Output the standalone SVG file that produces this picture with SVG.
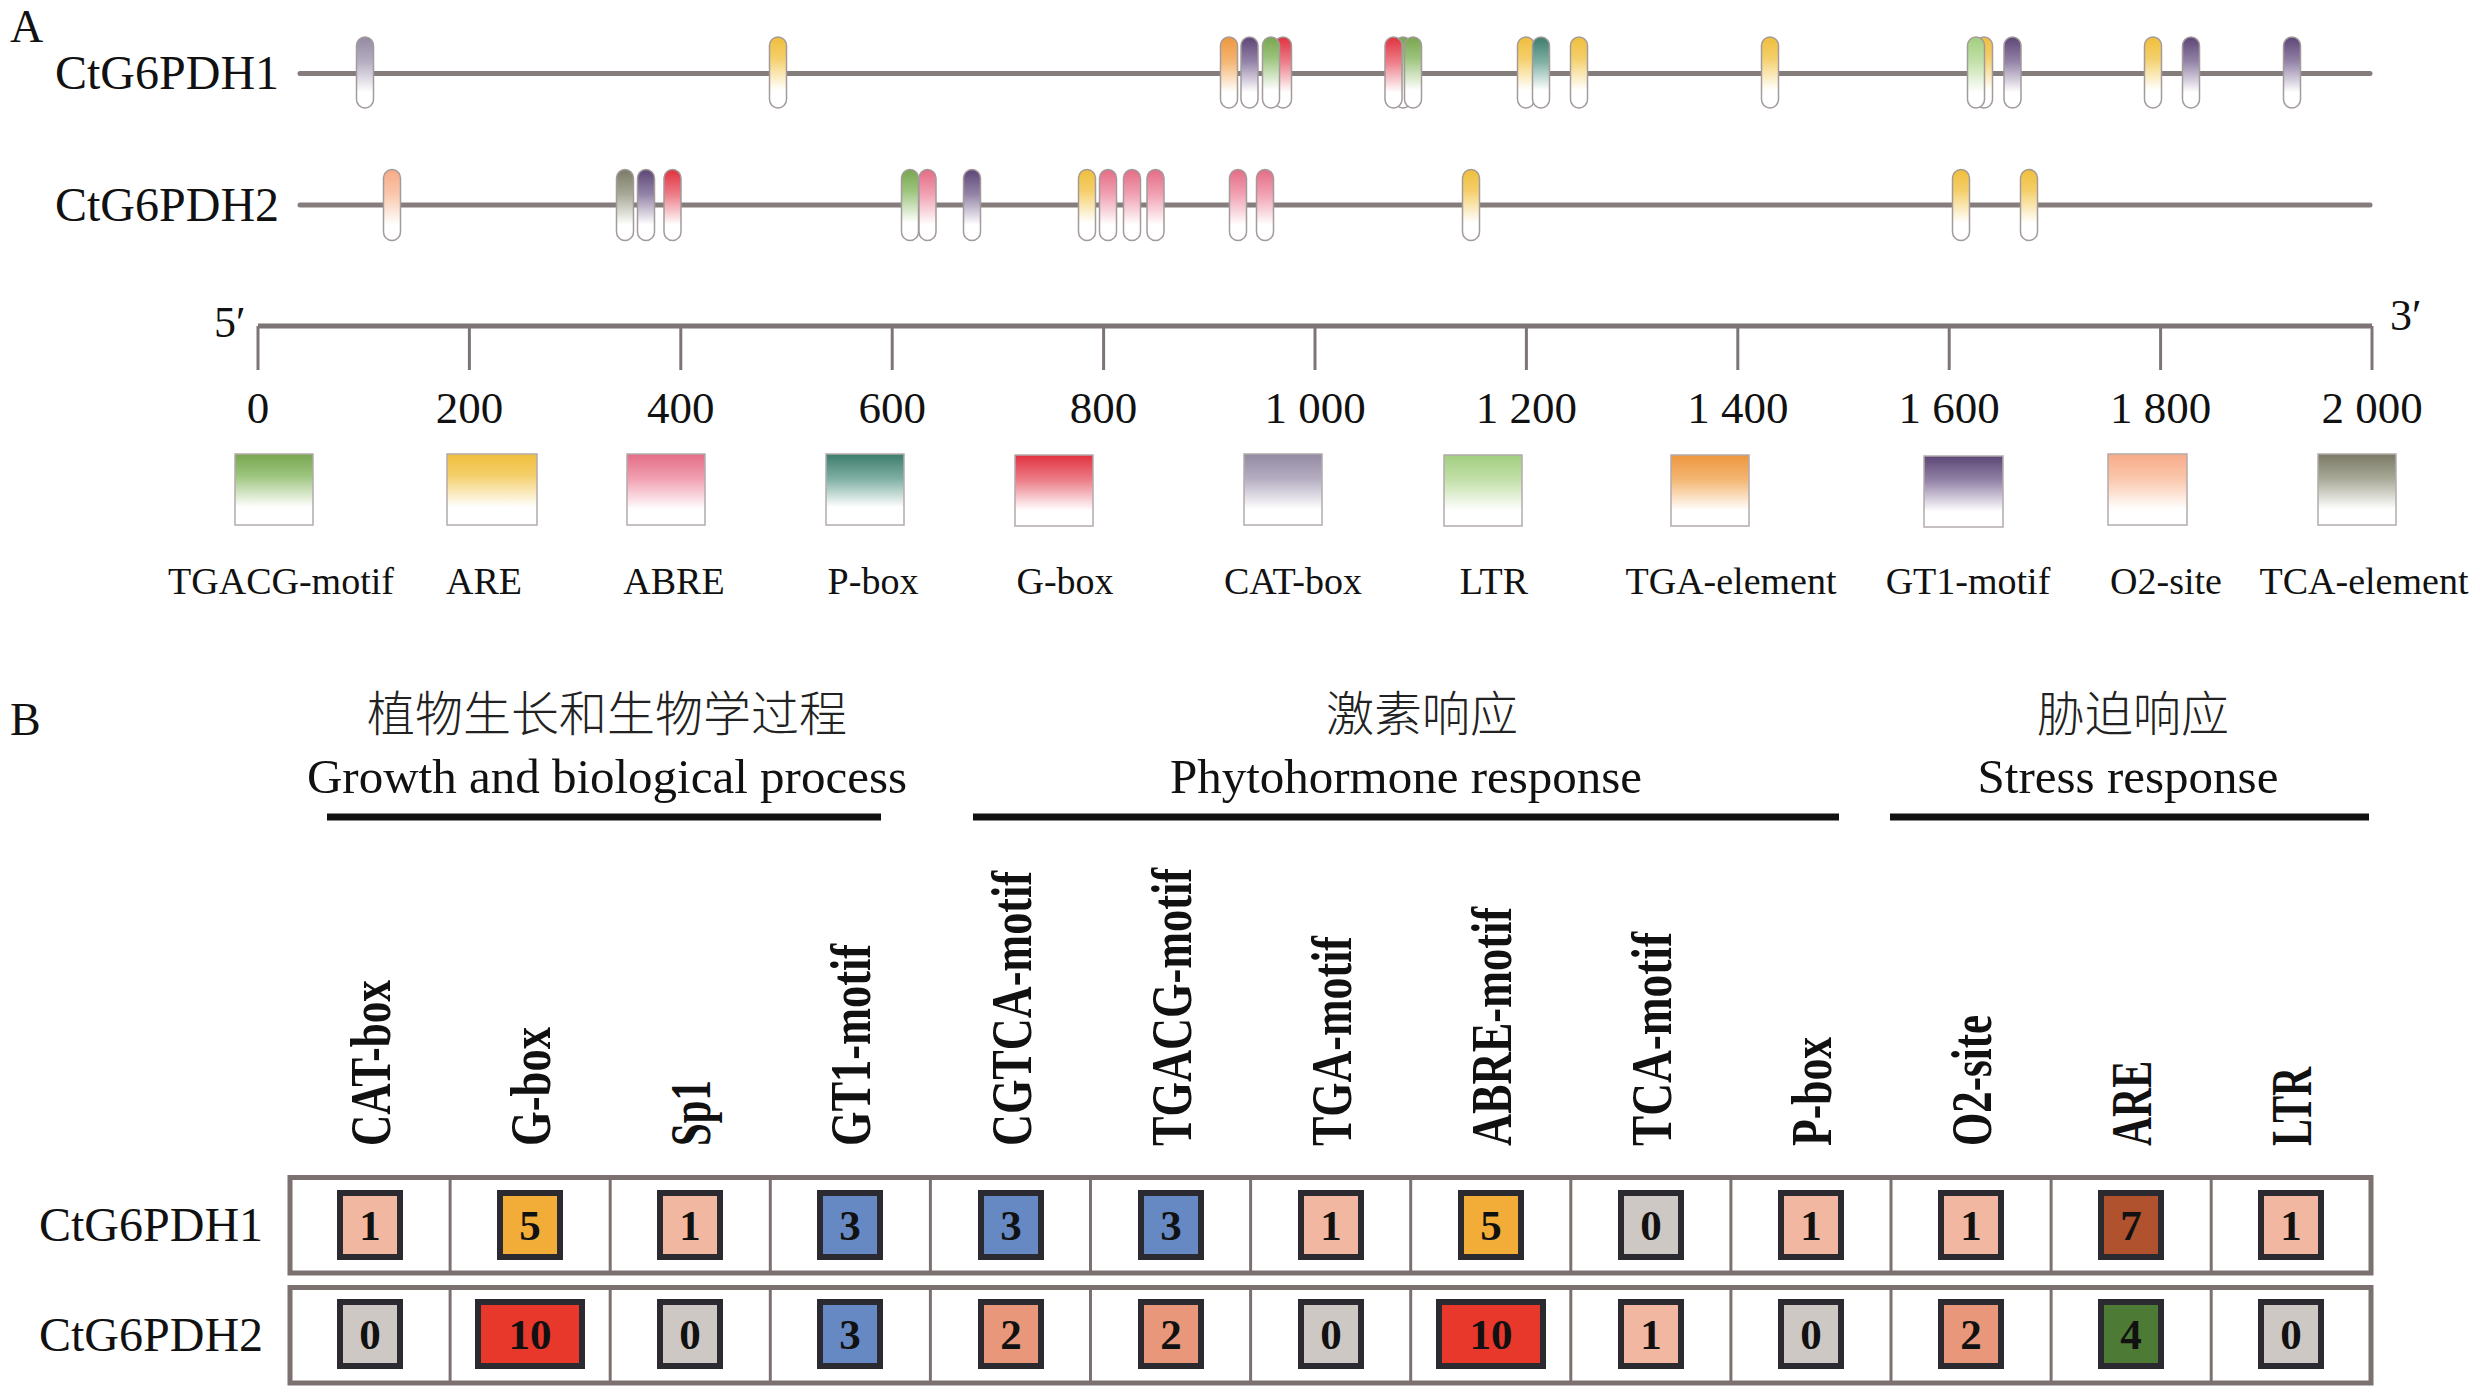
<svg xmlns="http://www.w3.org/2000/svg" width="2480" height="1397" viewBox="0 0 2480 1397">
<style>
.serif{font-family:"Liberation Serif","Times New Roman",serif;fill:#111}
.lbl{font-size:48px}
.tick{font-size:45px;text-anchor:middle}
.leg{font-size:38px;text-anchor:middle}
.ttl{font-size:49px;text-anchor:middle}
.cjk{font-family:"Noto Sans CJK SC",sans-serif;font-size:48px;font-weight:300;text-anchor:middle;fill:#222}
.col{font-family:"Liberation Serif","Times New Roman",serif;font-size:56px;font-weight:bold;fill:#111}
.num{font-family:"Liberation Serif","Times New Roman",serif;font-size:43px;font-weight:bold;text-anchor:middle;fill:#111}
.gl{stroke:#857c7c;stroke-width:5;stroke-linecap:round}
.cap{stroke:#a39a9a;stroke-width:1.5}
.lb{stroke:#b3abab;stroke-width:1.5}
.ax{stroke:#7d7575;fill:none}
.ul{stroke:#111;stroke-width:7}
.tb{fill:#fff;stroke:#7b7170;stroke-width:5}
.dv{stroke:#7b7170;stroke-width:3}
.nb{stroke:#2b2a30;stroke-width:6}
</style>
<defs>
<linearGradient id="gTGACG" x1="0" y1="0" x2="0" y2="1"><stop offset="0" stop-color="#78a650"/><stop offset="0.3" stop-color="#9cc47c"/><stop offset="0.75" stop-color="#fff"/></linearGradient>
<linearGradient id="gARE" x1="0" y1="0" x2="0" y2="1"><stop offset="0" stop-color="#efbe3c"/><stop offset="0.3" stop-color="#f4cf6a"/><stop offset="0.75" stop-color="#fff"/></linearGradient>
<linearGradient id="gABRE" x1="0" y1="0" x2="0" y2="1"><stop offset="0" stop-color="#e46c86"/><stop offset="0.35" stop-color="#f1a1b3"/><stop offset="0.78" stop-color="#fff"/></linearGradient>
<linearGradient id="gPBOX" x1="0" y1="0" x2="0" y2="1"><stop offset="0" stop-color="#3d7c6c"/><stop offset="0.35" stop-color="#7fb0a4"/><stop offset="0.75" stop-color="#fff"/></linearGradient>
<linearGradient id="gGBOX" x1="0" y1="0" x2="0" y2="1"><stop offset="0" stop-color="#e0323e"/><stop offset="0.35" stop-color="#ec7d88"/><stop offset="0.78" stop-color="#fff"/></linearGradient>
<linearGradient id="gCAT" x1="0" y1="0" x2="0" y2="1"><stop offset="0" stop-color="#938aa3"/><stop offset="0.35" stop-color="#b5aec1"/><stop offset="0.78" stop-color="#fff"/></linearGradient>
<linearGradient id="gLTR" x1="0" y1="0" x2="0" y2="1"><stop offset="0" stop-color="#a2cf80"/><stop offset="0.35" stop-color="#c3e0a9"/><stop offset="0.78" stop-color="#fff"/></linearGradient>
<linearGradient id="gTGA" x1="0" y1="0" x2="0" y2="1"><stop offset="0" stop-color="#ee963e"/><stop offset="0.35" stop-color="#f4b774"/><stop offset="0.78" stop-color="#fff"/></linearGradient>
<linearGradient id="gGT1" x1="0" y1="0" x2="0" y2="1"><stop offset="0" stop-color="#5c4676"/><stop offset="0.35" stop-color="#9484a8"/><stop offset="0.78" stop-color="#fff"/></linearGradient>
<linearGradient id="gO2" x1="0" y1="0" x2="0" y2="1"><stop offset="0" stop-color="#f8ab88"/><stop offset="0.35" stop-color="#fac7ac"/><stop offset="0.78" stop-color="#fff"/></linearGradient>
<linearGradient id="gTCA" x1="0" y1="0" x2="0" y2="1"><stop offset="0" stop-color="#7a7a66"/><stop offset="0.35" stop-color="#a9a998"/><stop offset="0.78" stop-color="#fff"/></linearGradient>
</defs>
<rect width="2480" height="1397" fill="#fff"/>

<g id="panel-A">
<text class="serif" x="10" y="42" font-size="46">A</text>
<g id="gene-CtG6PDH1">
<text class="serif lbl" x="55" y="89">CtG6PDH1</text>
<line class="gl" x1="300" y1="73.5" x2="2370" y2="73.5"/>
<g class="cap">
<rect x="356.5" y="37" width="17" height="71" rx="8.5" fill="url(#gCAT)"/>
<rect x="769.5" y="37" width="17" height="71" rx="8.5" fill="url(#gARE)"/>
<rect x="1220.5" y="37" width="17" height="71" rx="8.5" fill="url(#gTGA)"/>
<rect x="1241" y="37" width="17" height="71" rx="8.5" fill="url(#gGT1)"/>
<rect x="1274.5" y="37" width="17" height="71" rx="8.5" fill="url(#gGBOX)"/>
<rect x="1262.5" y="37" width="17" height="71" rx="8.5" fill="url(#gTGACG)"/>
<rect x="1394.5" y="37" width="17" height="71" rx="8.5" fill="url(#gTGACG)"/>
<rect x="1385" y="37" width="17" height="71" rx="8.5" fill="url(#gGBOX)"/>
<rect x="1404.5" y="37" width="17" height="71" rx="8.5" fill="url(#gTGACG)"/>
<rect x="1517.5" y="37" width="17" height="71" rx="8.5" fill="url(#gARE)"/>
<rect x="1532.5" y="37" width="17" height="71" rx="8.5" fill="url(#gPBOX)"/>
<rect x="1570.5" y="37" width="17" height="71" rx="8.5" fill="url(#gARE)"/>
<rect x="1761.5" y="37" width="17" height="71" rx="8.5" fill="url(#gARE)"/>
<rect x="1975.5" y="37" width="17" height="71" rx="8.5" fill="url(#gARE)"/>
<rect x="1967.5" y="37" width="17" height="71" rx="8.5" fill="url(#gLTR)"/>
<rect x="2004" y="37" width="17" height="71" rx="8.5" fill="url(#gGT1)"/>
<rect x="2144.5" y="37" width="17" height="71" rx="8.5" fill="url(#gARE)"/>
<rect x="2182.5" y="37" width="17" height="71" rx="8.5" fill="url(#gGT1)"/>
<rect x="2283.5" y="37" width="17" height="71" rx="8.5" fill="url(#gGT1)"/>
</g>
</g>
<g id="gene-CtG6PDH2">
<text class="serif lbl" x="55" y="221">CtG6PDH2</text>
<line class="gl" x1="300" y1="205" x2="2370" y2="205"/>
<g class="cap">
<rect x="383.5" y="169.5" width="17" height="71" rx="8.5" fill="url(#gO2)"/>
<rect x="616.5" y="169.5" width="17" height="71" rx="8.5" fill="url(#gTCA)"/>
<rect x="637.5" y="169.5" width="17" height="71" rx="8.5" fill="url(#gGT1)"/>
<rect x="664" y="169.5" width="17" height="71" rx="8.5" fill="url(#gGBOX)"/>
<rect x="901.5" y="169.5" width="17" height="71" rx="8.5" fill="url(#gTGACG)"/>
<rect x="919" y="169.5" width="17" height="71" rx="8.5" fill="url(#gABRE)"/>
<rect x="963.5" y="169.5" width="17" height="71" rx="8.5" fill="url(#gGT1)"/>
<rect x="1078.5" y="169.5" width="17" height="71" rx="8.5" fill="url(#gARE)"/>
<rect x="1099.5" y="169.5" width="17" height="71" rx="8.5" fill="url(#gABRE)"/>
<rect x="1123.5" y="169.5" width="17" height="71" rx="8.5" fill="url(#gABRE)"/>
<rect x="1147" y="169.5" width="17" height="71" rx="8.5" fill="url(#gABRE)"/>
<rect x="1229.5" y="169.5" width="17" height="71" rx="8.5" fill="url(#gABRE)"/>
<rect x="1256.5" y="169.5" width="17" height="71" rx="8.5" fill="url(#gABRE)"/>
<rect x="1462.5" y="169.5" width="17" height="71" rx="8.5" fill="url(#gARE)"/>
<rect x="1952.5" y="169.5" width="17" height="71" rx="8.5" fill="url(#gARE)"/>
<rect x="2020.5" y="169.5" width="17" height="71" rx="8.5" fill="url(#gARE)"/>
</g>
</g>
<g id="scale-axis">
<text class="serif" x="214" y="337" font-size="44">5′</text>
<text class="serif" x="2390" y="330" font-size="44">3′</text>
<line class="ax" x1="258" y1="326" x2="2372" y2="326" stroke-width="5"/>
<g class="ax" stroke-width="3">
<line x1="258" y1="326" x2="258" y2="370"/>
<line x1="469.4" y1="326" x2="469.4" y2="370"/>
<line x1="680.8" y1="326" x2="680.8" y2="370"/>
<line x1="892.2" y1="326" x2="892.2" y2="370"/>
<line x1="1103.6" y1="326" x2="1103.6" y2="370"/>
<line x1="1315" y1="326" x2="1315" y2="370"/>
<line x1="1526.4" y1="326" x2="1526.4" y2="370"/>
<line x1="1737.8" y1="326" x2="1737.8" y2="370"/>
<line x1="1949.2" y1="326" x2="1949.2" y2="370"/>
<line x1="2160.6" y1="326" x2="2160.6" y2="370"/>
<line x1="2372" y1="326" x2="2372" y2="370"/>
</g>
<g class="serif tick">
<text x="258" y="423">0</text>
<text x="469.4" y="423">200</text>
<text x="680.8" y="423">400</text>
<text x="892.2" y="423">600</text>
<text x="1103.6" y="423">800</text>
<text x="1315" y="423">1 000</text>
<text x="1526.4" y="423">1 200</text>
<text x="1737.8" y="423">1 400</text>
<text x="1949.2" y="423">1 600</text>
<text x="2160.6" y="423">1 800</text>
<text x="2372" y="423">2 000</text>
</g>
</g>
<g id="legend">
<g class="lb">
<rect x="235" y="454" width="78" height="71" fill="url(#gTGACG)"/>
<rect x="447" y="454" width="90" height="71" fill="url(#gARE)"/>
<rect x="627" y="454" width="78" height="71" fill="url(#gABRE)"/>
<rect x="826" y="454" width="78" height="71" fill="url(#gPBOX)"/>
<rect x="1015" y="455" width="78" height="71" fill="url(#gGBOX)"/>
<rect x="1244" y="454" width="78" height="71" fill="url(#gCAT)"/>
<rect x="1444" y="455" width="78" height="71" fill="url(#gLTR)"/>
<rect x="1671" y="455" width="78" height="71" fill="url(#gTGA)"/>
<rect x="1924" y="456" width="79" height="71" fill="url(#gGT1)"/>
<rect x="2108" y="454" width="79" height="71" fill="url(#gO2)"/>
<rect x="2318" y="454" width="78" height="71" fill="url(#gTCA)"/>
</g>
<g class="serif leg">
<text x="281" y="594">TGACG-motif</text>
<text x="484" y="594">ARE</text>
<text x="674" y="594">ABRE</text>
<text x="873" y="594">P-box</text>
<text x="1065" y="594">G-box</text>
<text x="1293" y="594">CAT-box</text>
<text x="1494" y="594">LTR</text>
<text x="1731" y="594">TGA-element</text>
<text x="1968" y="594">GT1-motif</text>
<text x="2166" y="594">O2-site</text>
<text x="2364" y="594">TCA-element</text>
</g>
</g>
</g>

<g id="panel-B">
<text class="serif" x="10" y="735" font-size="46">B</text>
<g id="group-growth">
<text class="cjk" x="607" y="731">植物生长和生物学过程</text>
<text class="serif ttl" x="607" y="793">Growth and biological process</text>
<line class="ul" x1="327" y1="817" x2="881" y2="817"/>
</g>
<g id="group-hormone">
<text class="cjk" x="1422" y="731">激素响应</text>
<text class="serif ttl" x="1406" y="793">Phytohormone response</text>
<line class="ul" x1="973" y1="817" x2="1839" y2="817"/>
</g>
<g id="group-stress">
<text class="cjk" x="2133" y="731">胁迫响应</text>
<text class="serif ttl" x="2128" y="793">Stress response</text>
<line class="ul" x1="1890" y1="817" x2="2369" y2="817"/>
</g>
<g id="column-labels" class="col">
<text transform="translate(390,1146) rotate(-90)" textLength="166" lengthAdjust="spacingAndGlyphs">CAT-box</text>
<text transform="translate(550,1146) rotate(-90)" textLength="119" lengthAdjust="spacingAndGlyphs">G-box</text>
<text transform="translate(710,1146) rotate(-90)" textLength="66" lengthAdjust="spacingAndGlyphs">Sp1</text>
<text transform="translate(870,1146) rotate(-90)" textLength="202" lengthAdjust="spacingAndGlyphs">GT1-motif</text>
<text transform="translate(1031,1146) rotate(-90)" textLength="275" lengthAdjust="spacingAndGlyphs">CGTCA-motif</text>
<text transform="translate(1191,1146) rotate(-90)" textLength="278" lengthAdjust="spacingAndGlyphs">TGACG-motif</text>
<text transform="translate(1351,1146) rotate(-90)" textLength="210" lengthAdjust="spacingAndGlyphs">TGA-motif</text>
<text transform="translate(1511,1146) rotate(-90)" textLength="239" lengthAdjust="spacingAndGlyphs">ABRE-motif</text>
<text transform="translate(1671,1146) rotate(-90)" textLength="214" lengthAdjust="spacingAndGlyphs">TCA-motif</text>
<text transform="translate(1831,1146) rotate(-90)" textLength="109" lengthAdjust="spacingAndGlyphs">P-box</text>
<text transform="translate(1991,1146) rotate(-90)" textLength="131" lengthAdjust="spacingAndGlyphs">O2-site</text>
<text transform="translate(2151,1146) rotate(-90)" textLength="85" lengthAdjust="spacingAndGlyphs">ARE</text>
<text transform="translate(2311,1146) rotate(-90)" textLength="79" lengthAdjust="spacingAndGlyphs">LTR</text>
</g>
<g id="row-CtG6PDH1">
<text class="serif lbl" x="39" y="1241">CtG6PDH1</text>
<rect class="tb" x="290" y="1177.5" width="2081" height="95.5"/>
<g class="dv">
<line x1="450.1" y1="1180" x2="450.1" y2="1271"/><line x1="610.2" y1="1180" x2="610.2" y2="1271"/><line x1="770.3" y1="1180" x2="770.3" y2="1271"/><line x1="930.4" y1="1180" x2="930.4" y2="1271"/><line x1="1090.5" y1="1180" x2="1090.5" y2="1271"/><line x1="1250.6" y1="1180" x2="1250.6" y2="1271"/><line x1="1410.7" y1="1180" x2="1410.7" y2="1271"/><line x1="1570.8" y1="1180" x2="1570.8" y2="1271"/><line x1="1730.9" y1="1180" x2="1730.9" y2="1271"/><line x1="1891" y1="1180" x2="1891" y2="1271"/><line x1="2051.1" y1="1180" x2="2051.1" y2="1271"/><line x1="2211.2" y1="1180" x2="2211.2" y2="1271"/>
</g>
<g class="nb">
<rect x="340" y="1193" width="60" height="64" fill="#f1b7a0"/>
<rect x="500" y="1193" width="60" height="64" fill="#f1ad38"/>
<rect x="660" y="1193" width="60" height="64" fill="#f1b7a0"/>
<rect x="820" y="1193" width="60" height="64" fill="#6689c4"/>
<rect x="981" y="1193" width="60" height="64" fill="#6689c4"/>
<rect x="1141" y="1193" width="60" height="64" fill="#6689c4"/>
<rect x="1301" y="1193" width="60" height="64" fill="#f1b7a0"/>
<rect x="1461" y="1193" width="60" height="64" fill="#f1ad38"/>
<rect x="1621" y="1193" width="60" height="64" fill="#cdc8c4"/>
<rect x="1781" y="1193" width="60" height="64" fill="#f1b7a0"/>
<rect x="1941" y="1193" width="60" height="64" fill="#f1b7a0"/>
<rect x="2101" y="1193" width="60" height="64" fill="#b0522e"/>
<rect x="2261" y="1193" width="60" height="64" fill="#f1b7a0"/>
</g>
<g class="num">
<text x="370" y="1240">1</text><text x="530" y="1240">5</text><text x="690" y="1240">1</text><text x="850" y="1240">3</text><text x="1011" y="1240">3</text><text x="1171" y="1240">3</text><text x="1331" y="1240">1</text><text x="1491" y="1240">5</text><text x="1651" y="1240">0</text><text x="1811" y="1240">1</text><text x="1971" y="1240">1</text><text x="2131" y="1240">7</text><text x="2291" y="1240">1</text>
</g>
</g>
<g id="row-CtG6PDH2">
<text class="serif lbl" x="39" y="1351">CtG6PDH2</text>
<rect class="tb" x="290" y="1287.5" width="2081" height="95.5"/>
<g class="dv">
<line x1="450.1" y1="1290" x2="450.1" y2="1381"/><line x1="610.2" y1="1290" x2="610.2" y2="1381"/><line x1="770.3" y1="1290" x2="770.3" y2="1381"/><line x1="930.4" y1="1290" x2="930.4" y2="1381"/><line x1="1090.5" y1="1290" x2="1090.5" y2="1381"/><line x1="1250.6" y1="1290" x2="1250.6" y2="1381"/><line x1="1410.7" y1="1290" x2="1410.7" y2="1381"/><line x1="1570.8" y1="1290" x2="1570.8" y2="1381"/><line x1="1730.9" y1="1290" x2="1730.9" y2="1381"/><line x1="1891" y1="1290" x2="1891" y2="1381"/><line x1="2051.1" y1="1290" x2="2051.1" y2="1381"/><line x1="2211.2" y1="1290" x2="2211.2" y2="1381"/>
</g>
<g class="nb">
<rect x="340" y="1302" width="60" height="64" fill="#cdc8c4"/>
<rect x="478" y="1302" width="104" height="64" fill="#e8382c"/>
<rect x="660" y="1302" width="60" height="64" fill="#cdc8c4"/>
<rect x="820" y="1302" width="60" height="64" fill="#6689c4"/>
<rect x="981" y="1302" width="60" height="64" fill="#e8977a"/>
<rect x="1141" y="1302" width="60" height="64" fill="#e8977a"/>
<rect x="1301" y="1302" width="60" height="64" fill="#cdc8c4"/>
<rect x="1439" y="1302" width="104" height="64" fill="#e8382c"/>
<rect x="1621" y="1302" width="60" height="64" fill="#f1b7a0"/>
<rect x="1781" y="1302" width="60" height="64" fill="#cdc8c4"/>
<rect x="1941" y="1302" width="60" height="64" fill="#e8977a"/>
<rect x="2101" y="1302" width="60" height="64" fill="#4d7a34"/>
<rect x="2261" y="1302" width="60" height="64" fill="#cdc8c4"/>
</g>
<g class="num">
<text x="370" y="1349">0</text><text x="530" y="1349">10</text><text x="690" y="1349">0</text><text x="850" y="1349">3</text><text x="1011" y="1349">2</text><text x="1171" y="1349">2</text><text x="1331" y="1349">0</text><text x="1491" y="1349">10</text><text x="1651" y="1349">1</text><text x="1811" y="1349">0</text><text x="1971" y="1349">2</text><text x="2131" y="1349">4</text><text x="2291" y="1349">0</text>
</g>
</g>
</g>
</svg>
